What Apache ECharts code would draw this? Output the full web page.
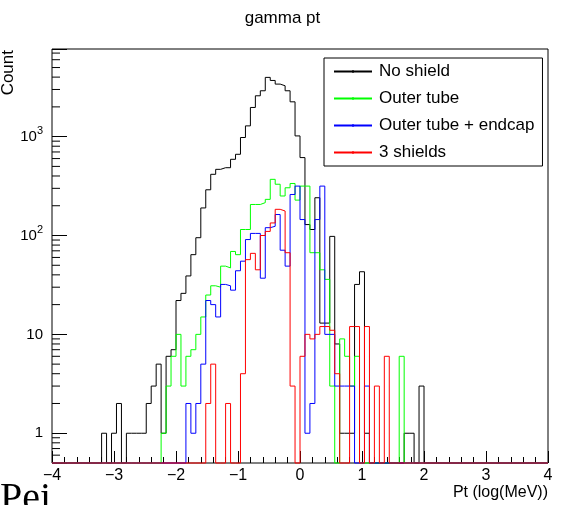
<!DOCTYPE html>
<html>
<head>
<meta charset="utf-8">
<script src="https://cdn.jsdelivr.net/npm/echarts@6/dist/echarts.min.js"></script>
<style>
  html, body { margin: 0; padding: 0; background: #fff; }
  #chart { width: 565px; height: 505px; }
</style>
</head>
<body>
<div id="chart"></div>
<script>
// Histogram binning: 100 bins of width 0.08 from -4 to 4 (log10 of Pt in MeV)
const binLow = -4;
const binWidth = 0.08;
const nBins = 100;

// Bin contents, bin 0 = [-4.00, -3.92)
const noShield = [
  0, 0, 0, 0, 0, 0, 0, 0, 0, 0,
  1, 0, 1, 2, 0, 1, 1, 1, 1, 2,
  3, 5, 1, 6, 7, 22, 26, 39, 64, 95,
  190, 290, 416, 467, 485, 485, 590, 663, 980, 1285,
  1973, 2590, 2910, 3975, 3700, 3400, 3270, 2910, 2250, 1017,
  614, 129, 115, 241, 13, 13, 98, 8, 1, 1,
  1, 32, 43, 1, 0, 0, 0, 0, 0, 0,
  0, 1, 1, 0, 3, 0, 0, 0, 0, 0,
  0, 0, 0, 0, 0, 0, 0, 0, 0, 0,
  0, 0, 0, 0, 0, 0, 0, 0, 0, 0
];
const outerTube = [
  0, 0, 0, 0, 0, 0, 0, 0, 0, 0,
  0, 0, 0, 0, 0, 0, 0, 0, 0, 0,
  0, 0, 1, 3, 6, 10, 3, 6, 7, 10,
  15, 25, 31, 30, 49, 47, 69, 64, 115, 115,
  206, 206, 215, 232, 370, 330, 251, 304, 336, 228,
  316, 316, 67, 67, 45, 36, 3, 0, 9, 6,
  3, 6, 0, 0, 0, 0, 0, 0, 0, 0,
  6, 0, 0, 0, 0, 0, 0, 0, 0, 0,
  0, 0, 0, 0, 0, 0, 0, 0, 0, 0,
  0, 0, 0, 0, 0, 0, 0, 0, 0, 0
];
const outerTubeEndcap = [
  0, 0, 0, 0, 0, 0, 0, 0, 0, 0,
  0, 0, 0, 0, 0, 0, 0, 0, 0, 0,
  0, 0, 0, 0, 0, 0, 0, 2, 1, 2,
  5, 22, 20, 15, 32, 31, 28, 44, 55, 91,
  105, 105, 37, 120, 124, 163, 71, 49, 260, 316,
  145, 1, 2, 145, 316, 10, 10, 3, 3, 3,
  3, 0, 0, 3, 0, 0, 0, 0, 0, 0,
  0, 0, 0, 0, 0, 0, 0, 0, 0, 0,
  0, 0, 0, 0, 0, 0, 0, 0, 0, 0,
  0, 0, 0, 0, 0, 0, 0, 0, 0, 0
];
const threeShields = [
  0, 0, 0, 0, 0, 0, 0, 0, 0, 0,
  0, 0, 0, 0, 0, 0, 0, 0, 0, 0,
  0, 0, 0, 0, 0, 0, 0, 0, 0, 0,
  0, 2, 5, 0, 0, 2, 0, 0, 4, 57,
  66, 45, 100, 110, 134, 184, 177, 67, 3, 0,
  6, 10, 9, 10, 12, 12, 11, 4, 0, 0,
  12, 12, 0, 12, 0, 3, 0, 6, 0, 0,
  0, 0, 0, 0, 0, 0, 0, 0, 0, 0,
  0, 0, 0, 0, 0, 0, 0, 0, 0, 0,
  0, 0, 0, 0, 0, 0, 0, 0, 0, 0
];

const seriesNames = ['No shield', 'Outer tube', 'Outer tube + endcap', '3 shields'];
const seriesColors = ['#000000', '#00ff00', '#0000ff', '#ff0000'];

// Axis range and ticks
const xMin = -4, xMax = 4, xStep = 1;
const yMin = 0.5, yMax = 7700;
const yMinorTicks = [
  0.6, 0.7, 0.8, 0.9,
  2, 3, 4, 5, 6, 7, 8, 9,
  20, 30, 40, 50, 60, 70, 80, 90,
  200, 300, 400, 500, 600, 700, 800, 900,
  2000, 3000, 4000, 5000, 6000, 7000
];

const FONT = 'Liberation Sans';

// Turn bin contents into step points at bin edges; empty bins sit on the axis floor
function stepPoints(counts) {
  const pts = counts.map((c, i) => [binLow + i * binWidth, Math.max(c, yMin)]);
  pts.push([binLow + nBins * binWidth, Math.max(counts[nBins - 1], yMin)]);
  return pts;
}

const histograms = [noShield, outerTube, outerTubeEndcap, threeShields];

const chart = echarts.init(document.getElementById('chart'), null, { renderer: 'canvas' });

const GRID = { left: 52, right: 17, top: 49, bottom: 42 };

chart.setOption({
  animation: false,
  backgroundColor: '#ffffff',
  title: {
    text: 'gamma pt',
    left: 'center',
    top: 5,
    textStyle: { fontFamily: FONT, fontSize: 17, fontWeight: 'normal', color: '#000' }
  },
  grid: {
    left: GRID.left, right: GRID.right, top: GRID.top, bottom: GRID.bottom,
    show: true, borderColor: '#000', borderWidth: 1, backgroundColor: '#fff'
  },
  legend: {
    orient: 'vertical',
    left: 324,
    top: 58,
    itemWidth: 38,
    itemHeight: 3,
    itemGap: 10,
    padding: [5, 8, 5, 9],
    borderColor: '#000',
    borderWidth: 1,
    backgroundColor: '#fff',
    selectedMode: false,
    data: seriesNames,
    textStyle: { fontFamily: FONT, fontSize: 17, color: '#000', padding: [0, 0, 0, 2] }
  },
  xAxis: {
    type: 'value',
    min: xMin, max: xMax, interval: xStep,
    axisLine: { show: false, onZero: false },
    splitLine: { show: false },
    axisTick: { inside: true, length: 12, lineStyle: { color: '#000', width: 1 } },
    minorTick: { show: true, splitNumber: 5, length: 6, lineStyle: { color: '#000', width: 1 } },
    axisLabel: {
      margin: 5,
      fontFamily: FONT, fontSize: 16, color: '#000',
      formatter: v => (v < 0 ? '\u2212' + (-v) : String(v))
    }
  },
  yAxis: {
    type: 'log',
    logBase: 10,
    min: yMin, max: yMax,
    axisLine: { show: false, onZero: false },
    splitLine: { show: false },
    axisTick: { inside: true, length: 15, lineStyle: { color: '#000', width: 1 } },
    axisLabel: {
      margin: 9,
      fontFamily: FONT, fontSize: 15, color: '#000',
      formatter: v => {
        const e = Math.log10(v);
        const r = Math.round(e);
        if (Math.abs(e - r) > 1e-6) return '';
        if (r === 0) return '{b|1}';
        if (r === 1) return '{b|10}';
        return '{b|10}{s|' + r + '}';
      },
      rich: {
        b: { fontFamily: FONT, fontSize: 15, color: '#000' },
        s: { fontFamily: FONT, fontSize: 11, color: '#000', padding: [0, 0, 12, 0] }
      }
    }
  },
  graphic: [
    {
      type: 'text', x: 8, y: 50, rotation: Math.PI / 2,
      style: { text: 'Count', font: '17px "' + FONT + '"', fill: '#000', align: 'right', verticalAlign: 'middle' }
    },
    {
      type: 'text', x: 548, y: 493,
      style: { text: 'Pt (log(MeV))', font: '16px "' + FONT + '"', fill: '#000', align: 'right', verticalAlign: 'middle' }
    },
    {
      type: 'text', x: 0, y: 519,
      style: { text: 'Pei', font: '40px "Liberation Serif"', fill: '#000', align: 'left', verticalAlign: 'bottom' }
    }
  ],
  series: [
    ...histograms.map((counts, k) => ({
      name: seriesNames[k],
      type: 'line',
      step: 'end',
      data: stepPoints(counts),
      symbol: 'none',
      clip: false,
      color: seriesColors[k],
      lineStyle: { color: seriesColors[k], width: 1 },
      itemStyle: { color: seriesColors[k] },
      emphasis: { disabled: true },
      z: 3 + k
    })),
    {
      // log-axis minor ticks at 2..9 x 10^k
      type: 'custom',
      silent: true,
      data: yMinorTicks.map(v => [xMin, v]),
      renderItem: (params, api) => {
        const p = api.coord([api.value(0), api.value(1)]);
        return {
          type: 'line',
          shape: { x1: p[0], y1: p[1], x2: p[0] + 8, y2: p[1] },
          style: { stroke: '#000', lineWidth: 1 }
        };
      },
      z: 2
    }
  ]
});
</script>
</body>
</html>
